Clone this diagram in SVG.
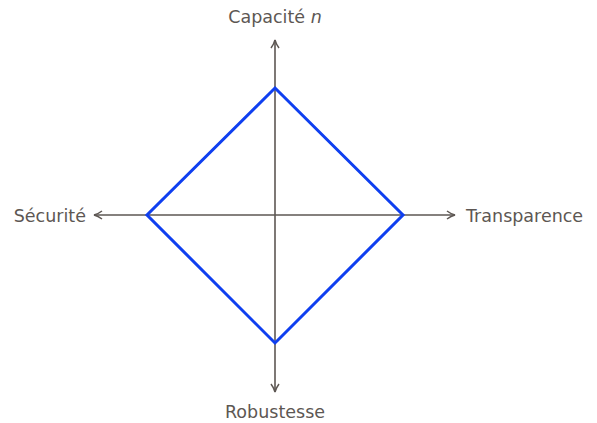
<svg xmlns="http://www.w3.org/2000/svg" width="597" height="423" viewBox="0 0 597 423">
<style>
text{font-family:"DejaVu Sans",sans-serif;font-size:17.5px;fill:#5d5753}
.ax{stroke:#5d5753;stroke-width:1.6;fill:none}
</style>
<defs>
<marker id="arr" viewBox="0 0 10 10" refX="9" refY="5" markerWidth="10" markerHeight="10" markerUnits="userSpaceOnUse" orient="auto">
<path d="M1,1 Q5,4 9,5 Q5,6 1,9" fill="none" stroke="#5d5753" stroke-width="1.5"/>
</marker>
</defs>
<rect width="597" height="423" fill="#fff"/>
<g id="connectors">
<line class="ax" x1="275" y1="215" x2="275" y2="40" marker-end="url(#arr)"/>
<line class="ax" x1="275" y1="215" x2="275" y2="392" marker-end="url(#arr)"/>
<line class="ax" x1="275" y1="215" x2="94" y2="215" marker-end="url(#arr)"/>
<line class="ax" x1="275" y1="215" x2="455" y2="215" marker-end="url(#arr)"/>
</g>
<g id="diamond">
<polygon points="275,88 403,215 275,343 147,215" fill="none" stroke="#0f3ff0" stroke-width="3"/>
</g>
<g id="top"><text x="275" y="23" text-anchor="middle">Capacité <tspan font-style="italic">n</tspan></text></g>
<g id="left"><text x="86" y="222" text-anchor="end">Sécurité</text></g>
<g id="right"><text x="466" y="222">Transparence</text></g>
<g id="bottom"><text x="275" y="418" text-anchor="middle">Robustesse</text></g>
</svg>
